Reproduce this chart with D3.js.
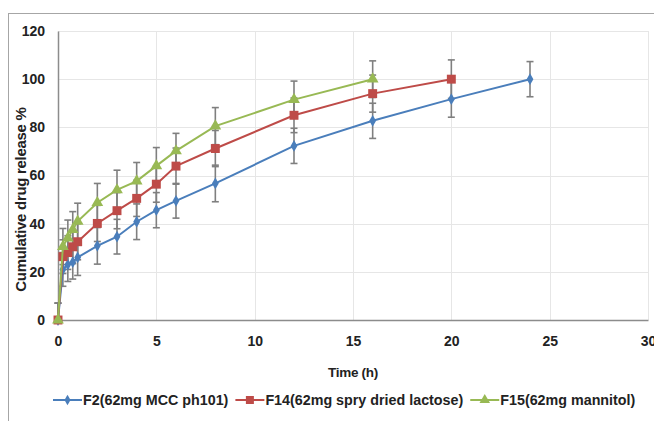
<!DOCTYPE html>
<html>
<head>
<meta charset="utf-8">
<script src="https://cdn.jsdelivr.net/npm/d3@7"></script>
<style>
  body { margin: 0; background: #fff; }
  svg text { font-family: "Liberation Sans", Arial, sans-serif; font-weight: bold; fill: #222; }
</style>
</head>
<body>
<div id="chart"></div>
<script>
// Time points (h)
const times = [0, 0.25, 0.5, 0.75, 1, 2, 3, 4, 5, 6, 8, 12, 16, 20, 24];

// Cumulative release % per formulation (null = not measured)
const f2Values  = [0, 21, 23, 24, 26, 30.8, 34.6, 40.8, 45.6, 49.5, 56.7, 72.3, 82.7, 91.7, 100];
const f14Values = [0, 26.3, 28, 30.4, 32.5, 40.1, 45.4, 50.5, 56.4, 63.9, 71.2, 85, 94, 100, null];
const f15Values = [0, 30.5, 34, 37.5, 41, 48.7, 54, 57.7, 64, 70.2, 80.5, 91.5, 100, null, null];

// Standard deviations
const f2Err  = [7, 7, 7, 7, 7.5, 7.6, 7.2, 7.4, 7.3, 7.2, 7.6, 7.3, 7.3, 7.5, 7.3];
const f14Err = [7, 7, 7, 7, 7.5, 7.5, 7.5, 7.5, 7.5, 7.5, 7.5, 7.2, 7.7, 8, null];
const f15Err = [7, 7.5, 7.5, 7.5, 7.5, 8, 8.2, 7.7, 7.6, 7.3, 7.7, 7.7, 7.6, null, null];

const seriesNames = ["F2(62mg MCC ph101)", "F14(62mg spry dried lactose)", "F15(62mg mannitol)"];
const xTicks = [0, 5, 10, 15, 20, 25, 30];
const yTicks = [0, 20, 40, 60, 80, 100, 120];

function renderChart() {
    const width = 654, height = 421;
    const margin = { top: 31, right: 6, bottom: 101, left: 58 };
    const plotW = width - margin.left - margin.right;
    const plotH = height - margin.top - margin.bottom;

    const svg = d3.select("#chart").append("svg")
        .attr("width", width)
        .attr("height", height);

    // outer chart border (clipped by the picture on right/bottom)
    svg.append("rect")
        .attr("x", 8.5).attr("y", 13.5)
        .attr("width", 800).attr("height", 600)
        .attr("fill", "none")
        .attr("stroke", "#a6a6a6");

    const g = svg.append("g")
        .attr("transform", `translate(${margin.left},${margin.top})`);

    const x = d3.scaleLinear().domain([0, 30]).range([0, plotW]);
    const y = d3.scaleLinear().domain([0, 120]).range([plotH, 0]);

    // gridlines
    g.append("g").selectAll("line").data(yTicks.slice(1)).join("line")
        .attr("x1", 0).attr("x2", plotW)
        .attr("y1", d => Math.round(y(d)) + 0.5).attr("y2", d => Math.round(y(d)) + 0.5)
        .attr("stroke", "#e6e6e6");
    g.append("g").selectAll("line").data(xTicks.slice(1)).join("line")
        .attr("y1", 0).attr("y2", plotH)
        .attr("x1", d => Math.round(x(d)) + 0.5).attr("x2", d => Math.round(x(d)) + 0.5)
        .attr("stroke", "#e6e6e6");

    // axes
    const xAxis = g.append("g")
        .attr("transform", `translate(0,${plotH})`)
        .call(d3.axisBottom(x).tickValues(xTicks).tickSize(0).tickPadding(16));
    xAxis.select(".domain").attr("stroke", "#8c8c8c").attr("stroke-width", 1.5);
    xAxis.selectAll("text").style("font-size", "14px");

    const yAxis = g.append("g")
        .call(d3.axisLeft(y).tickValues(yTicks).tickSize(0).tickPadding(13));
    yAxis.select(".domain").attr("stroke", "#8c8c8c").attr("stroke-width", 1.5);
    yAxis.selectAll("text").style("font-size", "14px");

    // axis labels
    svg.append("text")
        .attr("x", margin.left + x(15))
        .attr("y", 377)
        .attr("text-anchor", "middle")
        .style("font-size", "13.5px")
        .style("letter-spacing", "-0.3px")
        .text("Time (h)");

    svg.append("text")
        .attr("transform", `translate(26,${margin.top + y(50)}) rotate(-90)`)
        .attr("text-anchor", "middle")
        .style("font-size", "15px")
        .style("letter-spacing", "-0.3px")
        .text("Cumulative drug release %");

    const series = [
        { name: seriesNames[0], values: f2Values,  err: f2Err,  color: "#4a7ebb", symbol: d3.symbolDiamond, size: 40 },
        { name: seriesNames[1], values: f14Values, err: f14Err, color: "#be4b48", symbol: d3.symbolSquare,  size: 80 },
        { name: seriesNames[2], values: f15Values, err: f15Err, color: "#98b954", symbol: d3.symbolTriangle, size: 60 }
    ];

    // error bars
    series.forEach(s => {
        const pts = times.map((t, i) => ({ t, v: s.values[i], e: s.err[i] }))
            .filter(p => p.v !== null);
        const eb = g.append("g").attr("stroke", "#7f7f7f").attr("stroke-width", 1.6);
        pts.forEach(p => {
            const lo = Math.max(0, p.v - p.e), hi = p.v + p.e;
            const cx = x(p.t);
            eb.append("line").attr("x1", cx).attr("x2", cx).attr("y1", y(lo)).attr("y2", y(hi));
            eb.append("line").attr("x1", cx - 3.5).attr("x2", cx + 3.5).attr("y1", y(hi)).attr("y2", y(hi));
            if (p.v - p.e > 0) {
                eb.append("line").attr("x1", cx - 3.5).attr("x2", cx + 3.5).attr("y1", y(lo)).attr("y2", y(lo));
            }
        });
    });

    // lines and markers
    const line = d3.line().x(d => x(d.t)).y(d => y(d.v));
    series.forEach(s => {
        const pts = times.map((t, i) => ({ t, v: s.values[i] })).filter(p => p.v !== null);
        g.append("path")
            .datum(pts)
            .attr("d", line)
            .attr("fill", "none")
            .attr("stroke", s.color)
            .attr("stroke-width", 2);
        g.append("g").selectAll("path").data(pts).join("path")
            .attr("transform", d => `translate(${x(d.t)},${y(d.v)})`)
            .attr("d", d3.symbol().type(s.symbol).size(s.size))
            .attr("fill", s.color);
    });

    // legend
    const legend = svg.append("g").attr("transform", "translate(0,400)");
    let lx = 53;
    series.forEach(s => {
        const lg = legend.append("g").attr("transform", `translate(${lx},0)`);
        lg.append("line").attr("x1", 0).attr("x2", 29).attr("y1", 0).attr("y2", 0)
            .attr("stroke", s.color).attr("stroke-width", 2);
        lg.append("path")
            .attr("transform", "translate(14.5,0)")
            .attr("d", d3.symbol().type(s.symbol).size(s.size * 0.8))
            .attr("fill", s.color);
        const t = lg.append("text")
            .attr("x", 30).attr("y", 5)
            .style("font-size", "14.3px")
            .text(s.name);
        lx += 30 + t.node().getComputedTextLength() + 7;
    });
}

document.addEventListener("DOMContentLoaded", renderChart);
</script>
</body>
</html>
